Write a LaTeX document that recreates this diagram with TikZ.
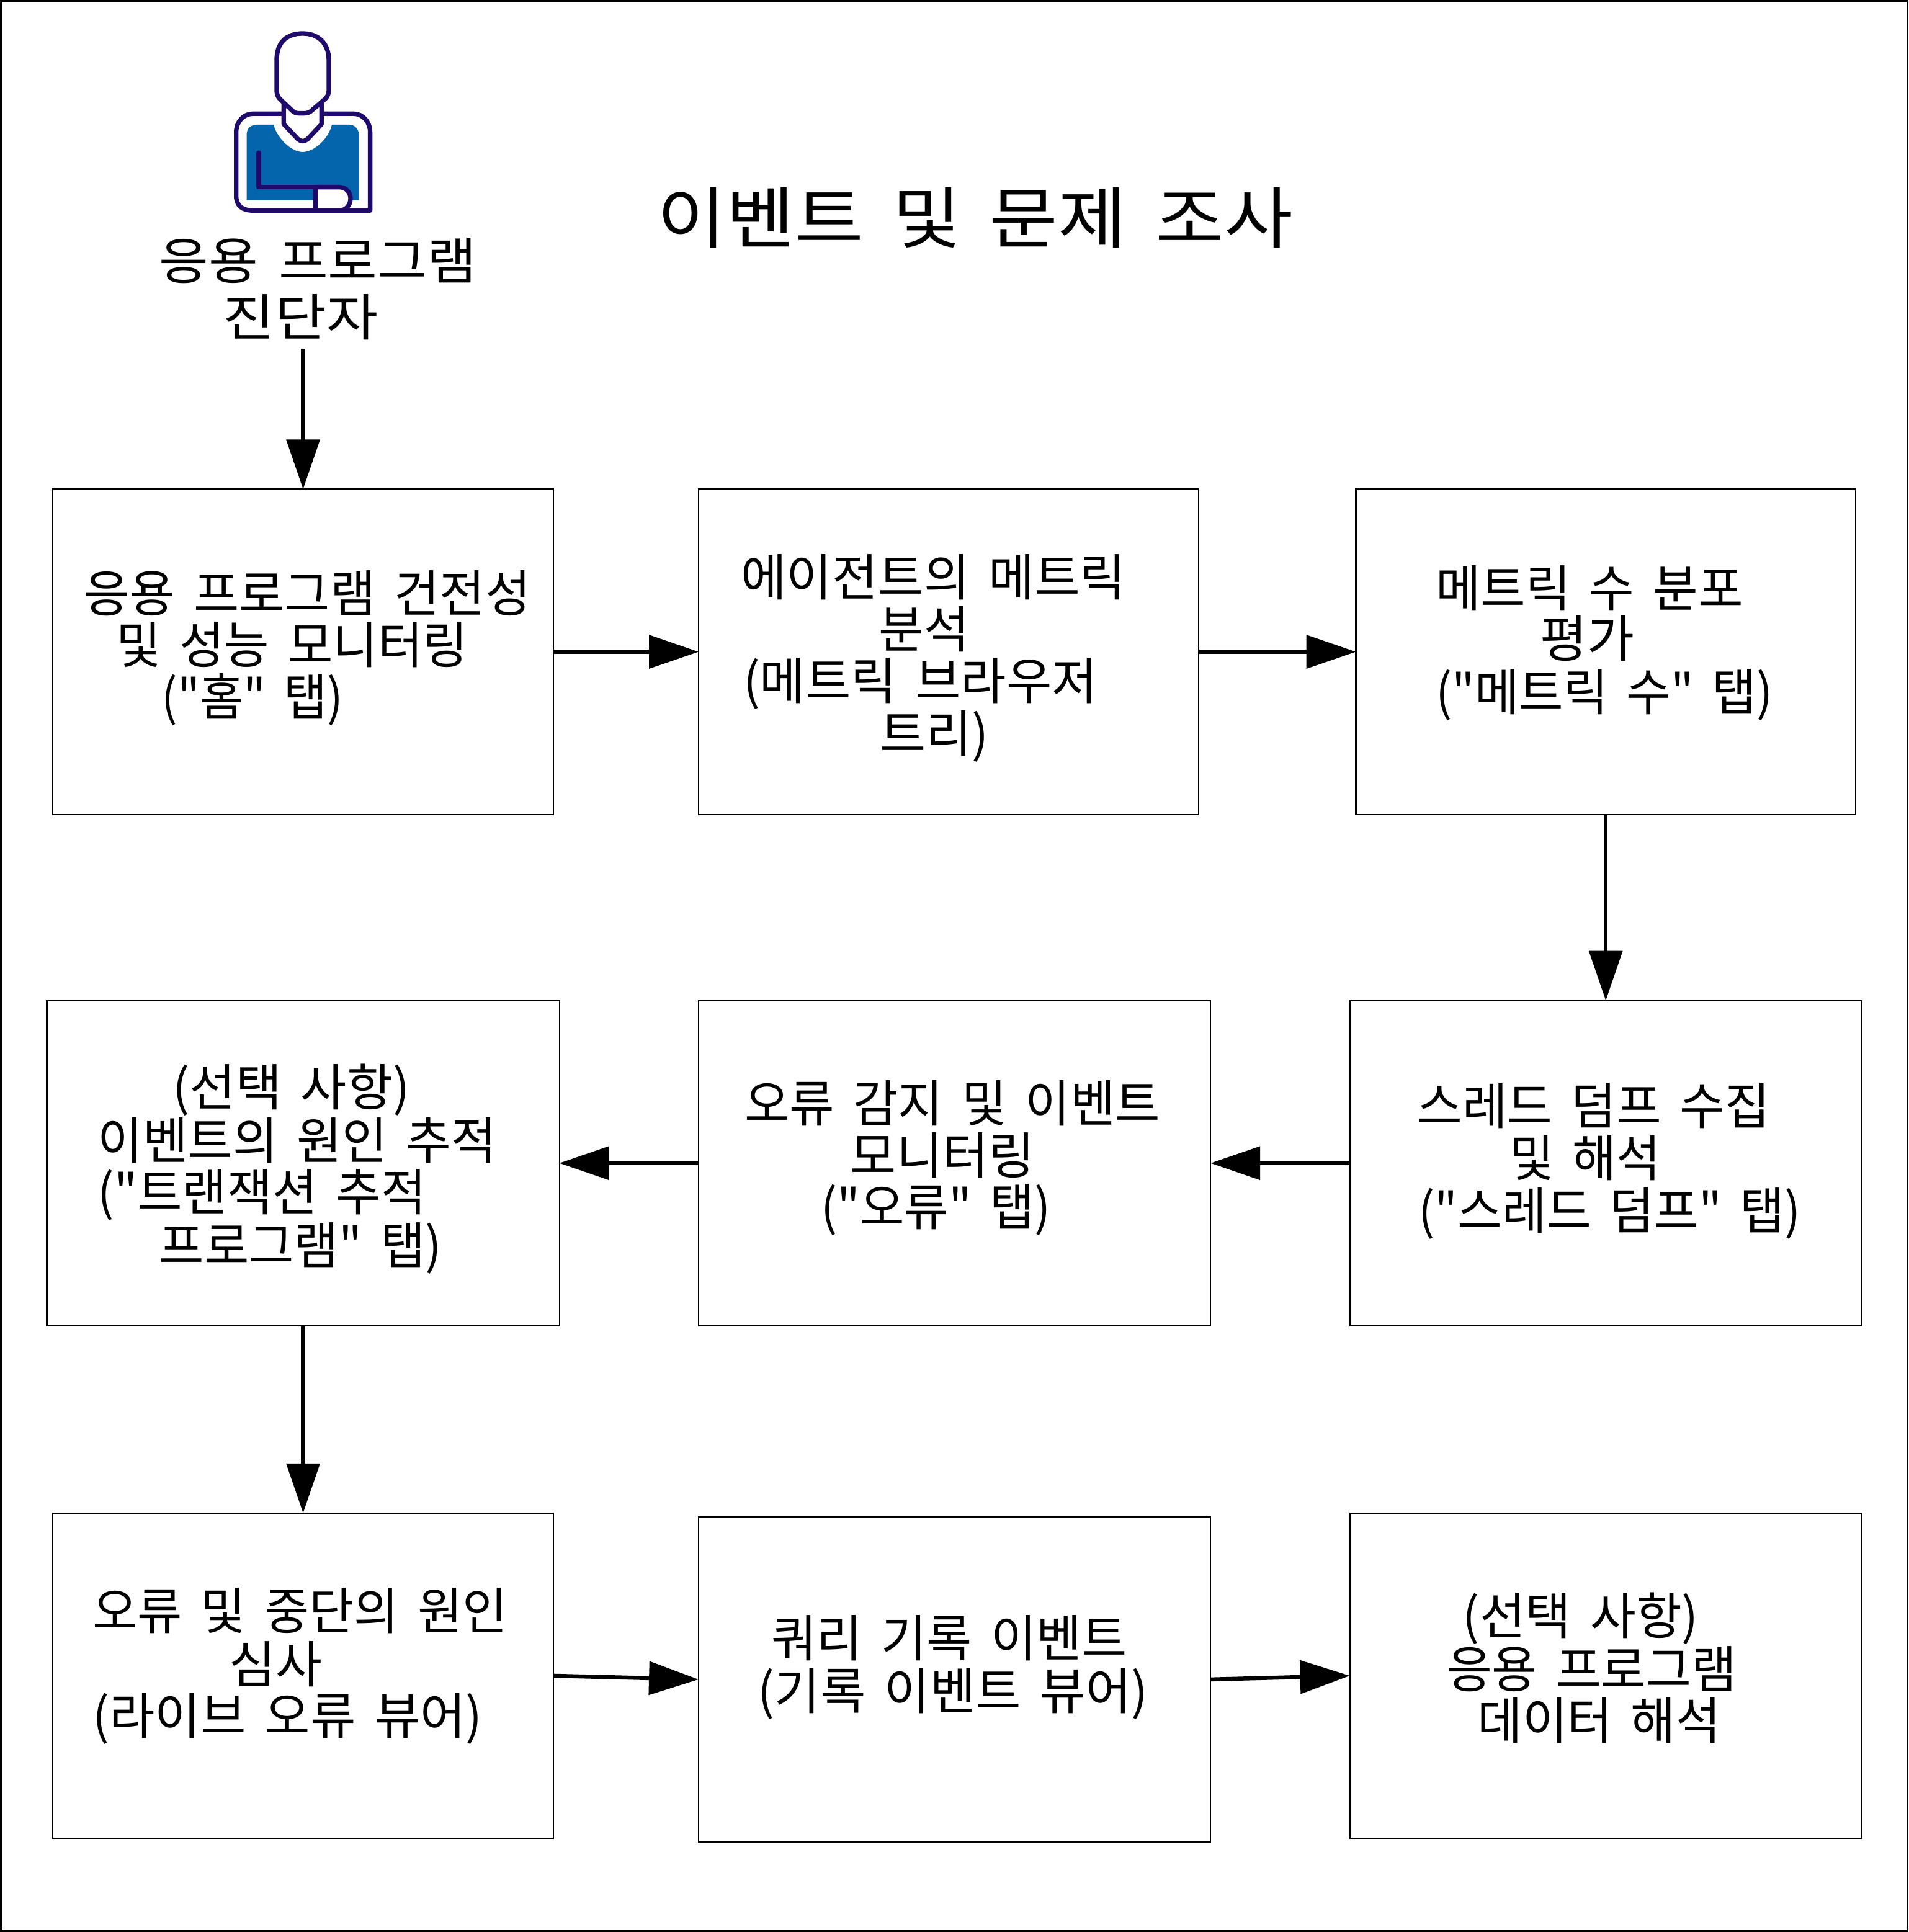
\documentclass[tikz,border=0pt]{standalone}
\usepackage{fontspec}
\usepackage{graphicx}
\newfontfamily\krfont[WordSpace=1.7]{Noto Sans CJK KR}
\usetikzlibrary{arrows.meta}
\definecolor{iconline}{HTML}{1F0A6B}
\definecolor{iconblue}{HTML}{0465AD}
\tikzset{
  stepbox/.style={draw=black,line width=2.2pt,fill=white,inner sep=0pt,outer sep=0pt},
  flow/.style={line width=6.5pt,-{Triangle[length=80pt,width=53pt]}},
  txt/.style={anchor=base,inner sep=0pt,outer sep=0pt,font=\krfont\fontsize{81pt}{90pt}\selectfont},
  ttl/.style={anchor=base,inner sep=0pt,outer sep=0pt,font=\krfont\fontsize{108pt}{120pt}\selectfont},
  ico/.style={draw=iconline,line width=7.3pt,line join=round,line cap=round}
}
\newcommand{\bx}[5]{%
  \pgfmathsetmacro{\bw}{(#4-#2)*1.986}\pgfmathsetmacro{\bh}{(#5-#3)*1.986}%
  \node[stepbox,minimum width=\bw pt,minimum height=\bh pt] (#1) at ({(#2+#4)/2},{(#3+#5)/2}) {};}
\newcommand{\tl}[5]{%
  \pgfmathsetmacro{\tw}{(#3-#2+3.5)*1.986}%
  \node[txt] (#1) at ({(#2+#3)/2},{#4+16.7}) {\resizebox{\tw pt}{\height}{#5}};}
\begin{document}
\begin{tikzpicture}[x=1.986pt,y=-1.986pt]
\useasboundingbox (0,0) rectangle (1548.9,1568);
\draw[line width=3pt,black] (0.7,0.7) rectangle (1548.2,1567.3);
% actor icon
\begin{scope}[shift={(171.2,10.07)},x=0.3333pt,y=-0.3333pt]
  \fill[iconblue] (173,908) -- (173,590) .. controls (173,560) and (195,543) .. (220,543) -- (303,543)
     .. controls (320,610) and (390,675) .. (443,675) .. controls (500,675) and (570,610) .. (585,543)
     -- (670,543) .. controls (695,543) and (715,565) .. (715,590) -- (715,908) -- cycle;
  \draw[ico] (352,490) -- (205,490) .. controls (155,490) and (122,530) .. (122,580) -- (122,885)
     .. controls (122,935) and (150,958) .. (205,958) -- (770,958) -- (770,580)
     .. controls (770,530) and (735,490) .. (690,490) -- (535,490);
  \draw[ico,fill=white] (352,440) -- (352,540) -- (420,612) .. controls (435,626) and (452,626) .. (468,612) -- (535,540) -- (535,440);
  \draw[ico,fill=white] (318,230) .. controls (318,145) and (365,102) .. (443,102)
     .. controls (520,102) and (570,150) .. (570,230) -- (570,375) .. controls (570,400) and (560,412) .. (545,425)
     -- (490,472) .. controls (478,484) and (465,488) .. (450,488) -- (425,488) .. controls (410,488) and (400,482) .. (390,472)
     -- (340,425) .. controls (325,412) and (318,400) .. (318,375) -- cycle;
  \draw[ico,fill=white] (505,958) -- (505,845) -- (620,845) .. controls (655,845) and (675,872) .. (675,900)
     .. controls (675,930) and (655,958) .. (620,958) -- cycle;
  \draw[ico] (231,678) -- (231,845) -- (505,845);
\end{scope}
% title and actor label
\node[ttl] (title) at ({(536+1047)/2},197) {\resizebox{1024pt}{\height}{이벤트 및 문제 조사}};
\tl{actora}{131}{385}{210}{응용 프로그램}
\tl{actorb}{183}{305}{256}{진단자}
\coordinate (actorfoot) at (246,283);
% boxes
\bx{a}{43}{397}{449}{661}
\bx{b}{567}{397}{973}{661}
\bx{c}{1100.5}{397}{1506}{661}
\bx{d}{1095.5}{812}{1511}{1076}
\bx{e}{567}{812}{982.5}{1076}
\bx{f}{38}{812}{454}{1076}
\bx{g}{43}{1228}{449}{1492}
\bx{h}{567}{1231}{982.5}{1495}
\bx{i}{1095.5}{1228}{1511}{1492}
% box texts
\tl{a1}{70}{429}{480}{응용 프로그램 건전성}
\tl{a2}{96}{378}{522}{및 성능 모니터링}
\tl{a3}{133}{277}{564}{("홈" 탭)}
\tl{b1}{603}{912}{467}{에이전트의 메트릭}
\tl{b2}{715}{785}{509}{분석}
\tl{b3}{605}{889}{551}{(메트릭 브라우저}
\tl{b4}{716}{801}{594}{트리)}
\tl{c1}{1167}{1413}{476}{메트릭 수 분포}
\tl{c2}{1252}{1325}{517}{평가}
\tl{c3}{1167}{1437}{560}{("메트릭 수" 탭)}
\tl{d1}{1152}{1435}{896}{스레드 덤프 수집}
\tl{d2}{1227}{1346}{938}{및 해석}
\tl{d3}{1153}{1460}{981}{("스레드 덤프" 탭)}
\tl{e1}{606}{940}{894}{오류 감지 및 이벤트}
\tl{e2}{692}{838}{936}{모니터링}
\tl{e3}{668}{851}{978}{("오류" 탭)}
\tl{f1}{142}{331}{881}{(선택 사항)}
\tl{f2}{81}{401}{924}{이벤트의 원인 추적}
\tl{f3}{81}{344}{966}{("트랜잭션 추적}
\tl{f4}{131}{357}{1009}{프로그램" 탭)}
\tl{g1}{77}{410}{1306}{오류 및 중단의 원인}
\tl{g2}{188}{260}{1349}{심사}
\tl{g3}{77}{390}{1391}{(라이브 오류 뷰어)}
\tl{h1}{628}{913}{1328}{쿼리 기록 이벤트}
\tl{h2}{617}{930}{1371}{(기록 이벤트 뷰어)}
\tl{i1}{1189}{1377}{1310}{(선택 사항)}
\tl{i2}{1176}{1408}{1353}{응용 프로그램}
\tl{i3}{1201}{1395}{1395}{데이터 해석}
% connectors
\draw[flow] (actorfoot) -- (a.north);
\draw[flow] (a.east) -- (b.west);
\draw[flow] (b.east) -- (c.west);
\draw[flow] (c.south) -- (d.north);
\draw[flow] (d.west) -- (e.east);
\draw[flow] (e.west) -- (f.east);
\draw[flow] (f.south) -- (g.north);
\draw[flow] (g.east) -- (h.west);
\draw[flow] (h.east) -- (i.west);
\end{tikzpicture}
\end{document}
